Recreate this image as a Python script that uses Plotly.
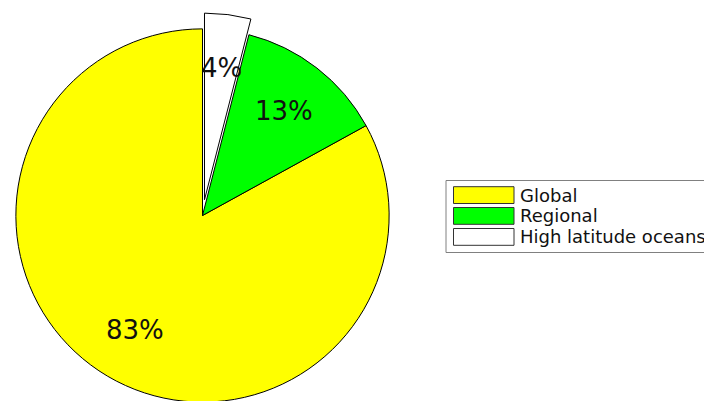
import math
import plotly.graph_objects as go

# ---- data ----
labels = ["Global", "Regional", "High latitude oceans"]
values = [83, 13, 4]
pulls = [0, 0, 0.085]
colors = ["#ffff00", "#00ff00", "#ffffff"]

# ---- layout geometry (pixels) ----
W, H = 704, 422
dom_x_px = [0, 405]
dom_y_px = [10, 421]          # top, bottom in screen pixels
dom_x = [dom_x_px[0] / W, dom_x_px[1] / W]
dom_y = [1 - dom_y_px[1] / H, 1 - dom_y_px[0] / H]
FONT = "DejaVu Sans"

total = sum(values)
# plotly's counterclockwise mode lays the first slice clockwise from `rotation`,
# so rotate back by the first slice's angle to start it at 12 o'clock going ccw
rot = -360 * values[0] / total

fig = go.Figure(go.Pie(
    labels=labels, values=values, pull=pulls, sort=False,
    direction="counterclockwise", rotation=rot,
    marker=dict(colors=colors, line=dict(color="black", width=1)),
    textinfo="none", hoverinfo="label+percent", showlegend=False,
    domain=dict(x=dom_x, y=dom_y),
))

# percentage labels placed along slice bisectors (matplotlib style)
cx = (dom_x_px[0] + dom_x_px[1]) / 2
cy = (dom_y_px[0] + dom_y_px[1]) / 2
rx = (dom_x_px[1] - dom_x_px[0]) / 2
ry = (dom_y_px[1] - dom_y_px[0]) / 2
r = min(rx, ry) / (1 + max(pulls))
cum = 0
annotations = []
for lab, v, p in zip(labels, values, pulls):
    mid = (cum + v / 2) / total * 2 * math.pi
    cum += v
    dx, dy = -math.sin(mid), -math.cos(mid)
    px = cx + (p + 0.71) * r * dx
    py = cy + (p + 0.71) * r * dy
    annotations.append(dict(
        x=px / W, y=1 - py / H, xref="paper", yref="paper",
        text=f"{round(v / total * 100)}%", showarrow=False,
        xanchor="center", yanchor="middle",
        font=dict(family=FONT, size=26, color="#111111"),
    ))

# manual legend (matplotlib look)
shapes = [dict(type="rect", xref="paper", yref="paper",
               x0=446 / W, x1=720 / W, y0=1 - 252.5 / H, y1=1 - 180.5 / H,
               line=dict(color="#808080", width=1), fillcolor="white", layer="below")]
row_top = [186.7, 207.5, 228.5]
sw_h = 16.8
for lab, col, top in zip(labels, colors, row_top):
    shapes.append(dict(type="rect", xref="paper", yref="paper",
                       x0=453.5 / W, x1=514 / W, y0=1 - (top + sw_h) / H, y1=1 - top / H,
                       line=dict(color="#333333", width=1), fillcolor=col))
    annotations.append(dict(
        x=518 / W, y=1 - (top + sw_h / 2) / H, xref="paper", yref="paper",
        text=lab, showarrow=False, xanchor="left", yanchor="middle",
        font=dict(family=FONT, size=18, color="#111111"),
    ))

fig.update_layout(
    width=W, height=H,
    margin=dict(l=0, r=0, t=0, b=0),
    paper_bgcolor="white", plot_bgcolor="white",
    font=dict(family=FONT),
    annotations=annotations, shapes=shapes,
)

post = ("document.body.style.margin='0';"
        "document.body.style.overflow='hidden';"
        "document.documentElement.style.overflow='hidden';")
fig.write_html("out.html", post_script=post, config={"displayModeBar": False})
